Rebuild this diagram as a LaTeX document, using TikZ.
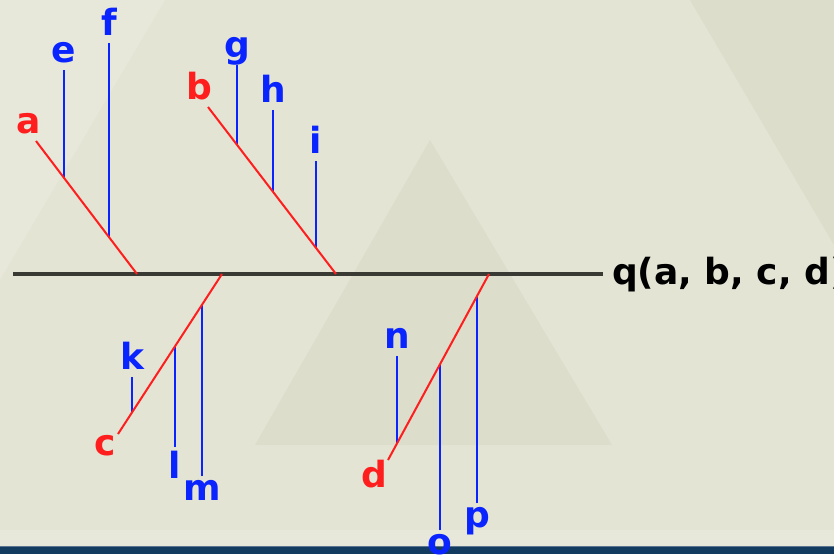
\documentclass[tikz,border=0pt]{standalone}
\usepackage{fontspec}
\setmainfont{DejaVu Sans}
\usepackage{tikz}

\definecolor{paper}{HTML}{E3E4D4}
\definecolor{paperdark}{HTML}{DCDDCB}
\definecolor{paperlight}{HTML}{E7E7DA}
\definecolor{barblue}{HTML}{133A5F}
\definecolor{stemblue}{HTML}{0A24FF}
\definecolor{chainred}{HTML}{FF1E1E}
\definecolor{axisgray}{HTML}{3A3A35}

\tikzset{
  stem/.style={draw=stemblue,line width=2.2pt},
  chain/.style={draw=chainred,line width=2pt},
  bluelbl/.style={text=stemblue,inner sep=0pt,text depth=0pt},
  redlbl/.style={text=chainred,inner sep=0pt}
}

\begin{document}
\begin{tikzpicture}[x=1pt,y=-1pt,font=\fontsize{36}{40}\selectfont\bfseries]
  \clip (0,0) rectangle (834,554);
  % background
  \fill[paper] (0,0) rectangle (834,554);
  \fill[paperlight] (0,0) -- (165,0) -- (0,280) -- cycle;
  \fill[paperdark] (690,0) -- (834,0) -- (834,245) -- cycle;
  \fill[paperdark] (430,140) -- (612,445) -- (255,445) -- cycle;
  \fill[paperlight] (0,530) rectangle (834,546);
  \fill[barblue] (0,546) rectangle (834,554);
  \draw[barblue!70!white,line width=1pt] (0,546.5) -- (834,546.5);

  % main line
  \coordinate (qL) at (13,274); \coordinate (qR) at (603,274);
  \draw[axisgray,line width=3.2pt] (qL)--(qR);
  \node[anchor=base west,inner sep=0pt] (q) at (612,284) {q(a, b, c, d)};

  % red chains
  \coordinate (qa) at (137,274); \coordinate (qb) at (336,274); \coordinate (qc) at (222,274); \coordinate (qd) at (489,274);
  \coordinate (a0) at (36,141); \coordinate (b0) at (208,107); \coordinate (c0) at (118,434); \coordinate (d0) at (388,460);
  \path (a0)--(qa) coordinate[pos=.277] (e1) coordinate[pos=.723] (f1);
  \path (b0)--(qb) coordinate[pos=.227] (g1) coordinate[pos=.508] (h1) coordinate[pos=.844] (i1);
  \path (c0)--(qc) coordinate[pos=.135] (k1) coordinate[pos=.548] (l1) coordinate[pos=.808] (m1);
  \path (d0)--(qd) coordinate[pos=.089] (n1) coordinate[pos=.515] (o1) coordinate[pos=.881] (p1);

  % blue stems
  \foreach \s/\y in {e/70,f/43,g/65,h/110,i/161,k/377,n/356} {
    \coordinate (\s0) at (\s1 |- 0,\y);
    \node[bluelbl,above=7pt] (\s) at (\s0) {\s};
    \draw[stem] (\s0)--(\s1);
  }
  \foreach \s/\y in {l/447,m/476,o/530,p/503} {
    \coordinate (\s0) at (\s1 |- 0,\y);
    \node[bluelbl,below=4pt] (\s) at (\s0) {\s};
    \draw[stem] (\s0)--(\s1);
  }

  \draw[chain] (a0)--(qa); \draw[chain] (b0)--(qb); \draw[chain] (c0)--(qc); \draw[chain] (d0)--(qd);
  \node[redlbl] (a) at (29,124) {a}; \node[redlbl] (b) at (199,86) {b};
  \node[redlbl] (c) at (105,446) {c}; \node[redlbl] (d) at (374,474) {d};
\end{tikzpicture}
\end{document}
